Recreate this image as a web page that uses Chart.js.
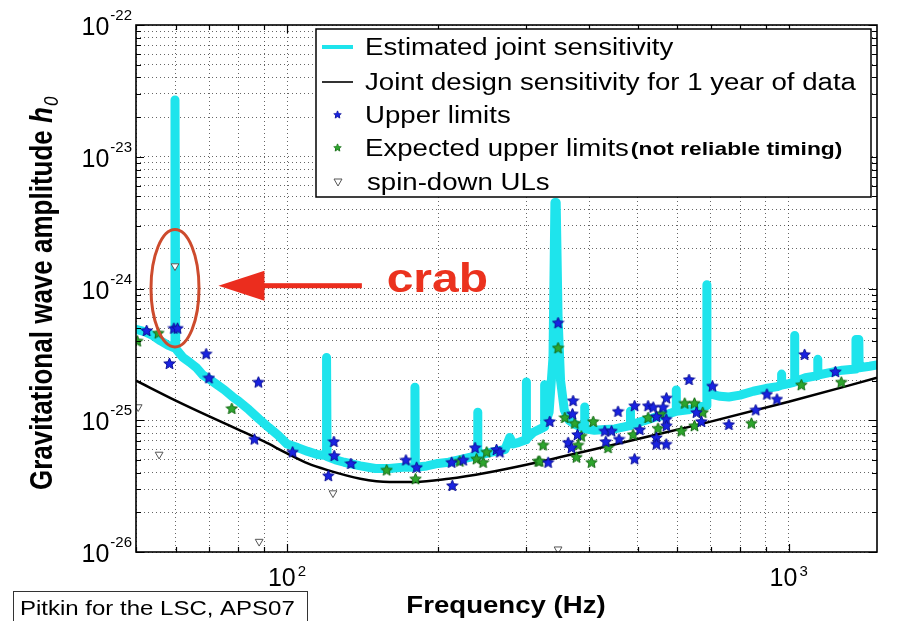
<!DOCTYPE html>
<html>
<head>
<meta charset="utf-8">
<script src="https://cdn.jsdelivr.net/npm/chart.js@4.4.1/dist/chart.umd.min.js"></script>
<style>
    html, body { margin: 0; padding: 0; background: #fff; }
    canvas { display: block; }
</style>
</head>
<body>
<canvas id="gw-chart" width="897" height="621"></canvas>
<script>
// 軸範囲
const X_MIN = 50, X_MAX = 1500;
const Y_MIN = 1e-26, Y_MAX = 1e-22;

// 目盛りラベル (10^n)
const xLabelExps = [2, 3];
const yLabelExps = [-26, -25, -24, -23, -22];

// Estimated joint sensitivity (cyan)
const sensFreq = [50, 52, 54, 56, 58, 59.6, 59.8, 60.0, 62, 64, 66, 68, 70, 72, 75, 78, 80, 84, 88, 92, 96,
    100, 105, 110, 115, 119.6, 119.9, 120.2, 125, 130, 140, 150, 160, 170, 179.6, 179.9, 180.2, 190, 200,
    210, 220, 230, 239.6, 239.9, 240.2, 250, 260, 272, 278, 282, 290, 299.6, 299.9, 300.2, 310, 320,
    325.8, 326.1, 326.4, 333, 339, 342, 344, 347, 351, 357, 365, 375, 385, 391.7, 392, 392.3, 410, 430,
    450, 470, 483.3, 483.6, 483.9, 510, 540, 570, 596.6, 596.9, 597.2, 630, 660, 686.6, 686.9, 687.2,
    700, 730, 760, 800, 850, 900, 950, 967.7, 968, 968.3, 1000, 1027.7, 1028, 1028.3, 1080, 1142.7,
    1143, 1143.3, 1200, 1280, 1360, 1362, 1380, 1382, 1450, 1500];
const sensH = [4.9e-25, 4.7e-25, 4.4e-25, 4.0e-25, 3.7e-25, 3.55e-25, 2.7e-23, 3.5e-25, 3.0e-25, 2.75e-25,
    2.5e-25, 2.2e-25, 2.05e-25, 1.9e-25, 1.7e-25, 1.5e-25, 1.4e-25, 1.2e-25, 1.02e-25, 8.8e-26, 7.7e-26,
    6.6e-26, 6.2e-26, 5.8e-26, 5.5e-26, 5.4e-26, 3.0e-25, 5.3e-26, 5.0e-26, 4.8e-26, 4.5e-26, 4.3e-26,
    4.3e-26, 4.4e-26, 4.4e-26, 1.78e-25, 4.4e-26, 4.5e-26, 4.7e-26, 4.8e-26, 5.0e-26, 5.2e-26, 5.4e-26,
    1.15e-25, 5.4e-26, 5.6e-26, 5.8e-26, 6.0e-26, 7.4e-26, 6.6e-26, 6.8e-26, 7.1e-26, 1.95e-25, 7.2e-26,
    8.1e-26, 8.6e-26, 8.9e-26, 1.86e-25, 9.2e-26, 1.15e-25, 3.0e-25, 4.5e-24, 4.5e-24, 6.0e-25, 2.0e-25,
    1.2e-25, 1.0e-25, 9.3e-26, 8.9e-26, 8.7e-26, 1.26e-25, 8.6e-26, 8.4e-26, 8.5e-26, 8.6e-26, 8.9e-26,
    9.1e-26, 1.17e-25, 9.2e-26, 9.8e-26, 1.05e-25, 1.1e-25, 1.17e-25, 1.7e-25, 1.17e-25, 1.2e-25,
    1.26e-25, 1.29e-25, 1.07e-24, 1.58e-25, 1.58e-25, 1.52e-25, 1.5e-25, 1.55e-25, 1.66e-25, 1.74e-25,
    1.8e-25, 1.85e-25, 2.24e-25, 1.85e-25, 1.9e-25, 1.95e-25, 4.4e-25, 1.96e-25, 2.1e-25, 2.18e-25,
    2.9e-25, 2.2e-25, 2.29e-25, 2.4e-25, 2.45e-25, 4.1e-25, 4.1e-25, 2.5e-25, 2.57e-25, 2.63e-25];

// Joint design sensitivity (black)
const designFreq = [50, 60, 70, 80, 90, 100, 110, 120, 140, 160, 180, 210, 250, 300, 400, 500, 665, 1000, 1500];
const designH = [2.0e-25, 1.41e-25, 1.07e-25, 8.5e-26, 6.9e-26, 5.6e-26, 4.7e-26, 4.2e-26, 3.6e-26, 3.4e-26,
    3.4e-26, 3.6e-26, 4.0e-26, 4.6e-26, 5.9e-26, 7.2e-26, 9.3e-26, 1.38e-25, 2.1e-25];

// Upper limits (blue)
const ulFreq = [52.5, 59.5, 60.5, 58.3, 69.0, 69.9, 87.7, 86.1, 102.6, 120.9, 124.0, 124.2, 134.1, 172.6,
    181.3, 212.9, 213.5, 224.5, 237, 261.6, 265.6, 347, 334, 371.8, 370.7, 379.3, 363.4, 369, 331.6, 430,
    443.5, 432, 457, 459, 493, 505, 493, 524.5, 537, 562, 570.6, 545, 570, 570.6, 545, 570, 545, 633, 655,
    704.7, 670, 760, 859.6, 905, 947.7, 1076, 1239];
const ulH = [4.8e-25, 5.0e-25, 5.0e-25, 2.7e-25, 3.2e-25, 2.1e-25, 1.95e-25, 7.2e-26, 5.75e-26, 3.8e-26,
    6.9e-26, 5.4e-26, 4.7e-26, 5.0e-26, 4.4e-26, 4.8e-26, 3.2e-26, 5.0e-26, 6.2e-26, 6.0e-26, 5.75e-26,
    5.5e-25, 9.8e-26, 1.41e-25, 1.12e-25, 7.8e-26, 6.8e-26, 6.2e-26, 4.8e-26, 8.3e-26, 8.3e-26, 6.9e-26,
    1.17e-25, 7.2e-26, 1.29e-25, 8.5e-26, 5.1e-26, 1.29e-25, 1.26e-25, 1.26e-25, 1.48e-25, 1.07e-25,
    1.02e-25, 9.1e-26, 7.4e-26, 6.6e-26, 6.6e-26, 2.04e-25, 1.15e-25, 1.82e-25, 9.8e-26, 9.3e-26, 1.2e-25,
    1.58e-25, 1.45e-25, 3.16e-25, 2.34e-25];

// Expected upper limits (green)
const expFreq = [50.3, 55.4, 77.6, 158, 180.4, 221, 238.7, 246, 250, 316.8, 347, 324, 319, 358, 374.7, 386,
    380.4, 377.6, 404.6, 407.7, 436.5, 489.6, 524.5, 549, 556, 611, 620.6, 649, 649, 674, 842.7, 1060, 1273];
const expH = [4.0e-25, 4.6e-25, 1.23e-25, 4.2e-26, 3.6e-26, 4.9e-26, 5.1e-26, 4.8e-26, 5.75e-26, 4.9e-26,
    3.55e-25, 6.5e-26, 4.9e-26, 1.05e-25, 9.5e-26, 7.6e-26, 6.5e-26, 5.25e-26, 4.8e-26, 9.8e-26, 6.2e-26,
    7.8e-26, 1.05e-25, 8.7e-26, 1.12e-25, 8.3e-26, 1.35e-25, 1.35e-25, 9.1e-26, 1.15e-25, 9.5e-26,
    1.86e-25, 1.95e-25];

// spin-down ULs
const sdFreq = [50.5, 55.6, 59.8, 88, 123.5, 347];
const sdH = [1.26e-25, 5.5e-26, 1.48e-24, 1.2e-26, 2.8e-26, 1.05e-26];

// crab 注記
const crabMark = { freq: 59.8, hTop: 2.8e-24, hBottom: 3.6e-25 };
const crabArrow = { tipFreq: 73, tailFreq: 141, h: 1.05e-24 };
const crabLabel = { freq: 158, h: 9.4e-25 };

const CYAN = "rgb(30,228,236)";
const SX = 1.2; // 横伸ばし

function toPoints(xs, ys) {
    return xs.map((x, i) => ({ x: x, y: ys[i] }));
}

// 1..9 x 10^n のグリッド位置
function gridValues(min, max) {
    const out = [];
    for (let d = Math.floor(Math.log10(min)); d <= Math.ceil(Math.log10(max)); d++) {
        for (let m = 1; m <= 9; m++) {
            const v = m * Math.pow(10, d);
            if (v >= min * 0.999 && v <= max * 1.001) out.push(v);
        }
    }
    return out;
}

function makeStar(fill, stroke, size) {
    const c = document.createElement("canvas");
    c.width = size;
    c.height = size;
    const g = c.getContext("2d");
    const cx = size / 2, cy = size / 2 + 0.5;
    const R = size / 2 - 0.5, r = R * 0.45;
    g.beginPath();
    for (let i = 0; i < 10; i++) {
        const a = -Math.PI / 2 + i * Math.PI / 5;
        const rad = i % 2 ? r : R;
        g.lineTo(cx + rad * Math.cos(a), cy + rad * Math.sin(a));
    }
    g.closePath();
    g.fillStyle = fill;
    g.fill();
    g.strokeStyle = stroke;
    g.lineWidth = 1;
    g.stroke();
    return c;
}

const blueStar = makeStar("rgb(25,35,225)", "rgb(10,15,150)", 13);
const greenStar = makeStar("rgb(45,165,45)", "rgb(20,105,20)", 13);

function drawText(ctx, str, x, y, font, color, align, sx) {
    ctx.save();
    ctx.font = font;
    ctx.fillStyle = color;
    ctx.textAlign = "left";
    ctx.textBaseline = "alphabetic";
    const w = ctx.measureText(str).width * sx;
    let x0 = x;
    if (align === "center") x0 = x - w / 2;
    if (align === "right") x0 = x - w;
    ctx.translate(x0, y);
    ctx.scale(sx, 1);
    ctx.fillText(str, 0, 0);
    ctx.restore();
    return w;
}

function textWidth(ctx, str, font, sx) {
    ctx.save();
    ctx.font = font;
    const w = ctx.measureText(str).width * sx;
    ctx.restore();
    return w;
}

// 枠・内向き目盛り・目盛りラベル・軸タイトル
const framePlugin = {
    id: "frame",
    afterDatasetsDraw(chart) {
        const { ctx, chartArea, scales } = chart;
        const { left, right, top, bottom } = chartArea;
        ctx.save();
        ctx.strokeStyle = "#000";
        ctx.lineWidth = 1.2;
        ctx.beginPath();
        gridValues(X_MIN, X_MAX).forEach(v => {
            const px = Math.round(scales.x.getPixelForValue(v)) + 0.5;
            const len = Number.isInteger(Math.log10(v)) ? 8 : 5;
            ctx.moveTo(px, bottom); ctx.lineTo(px, bottom - len);
            ctx.moveTo(px, top); ctx.lineTo(px, top + len);
        });
        gridValues(Y_MIN, Y_MAX).forEach(v => {
            const py = Math.round(scales.y.getPixelForValue(v)) + 0.5;
            const e = Math.log10(v);
            const len = Math.abs(e - Math.round(e)) < 1e-6 ? 8 : 5;
            ctx.moveTo(left, py); ctx.lineTo(left + len, py);
            ctx.moveTo(right, py); ctx.lineTo(right - len, py);
        });
        ctx.stroke();
        ctx.lineWidth = 1.6;
        ctx.strokeRect(left, top, right - left, bottom - top);

        // 目盛りラベル
        const baseFont = "25px 'Liberation Sans', Arial, sans-serif";
        const expFont = "15px 'Liberation Sans', Arial, sans-serif";
        yLabelExps.forEach(e => {
            const py = scales.y.getPixelForValue(Math.pow(10, e));
            const expStr = "-" + Math.abs(e);
            const we = textWidth(ctx, expStr, expFont, 1);
            drawText(ctx, expStr, left - 4, py - 5, expFont, "#000", "right", 1);
            drawText(ctx, "10", left - 5 - we, py + 10, baseFont, "#000", "right", 1);
        });
        xLabelExps.forEach(e => {
            const px = scales.x.getPixelForValue(Math.pow(10, e));
            const wb = textWidth(ctx, "10", baseFont, 1);
            const we = textWidth(ctx, String(e), expFont, 1);
            const x0 = px - (wb + we + 2) / 2;
            drawText(ctx, "10", x0, 586, baseFont, "#000", "left", 1);
            drawText(ctx, String(e), x0 + wb + 2, 576, expFont, "#000", "left", 1);
        });

        // x 軸タイトル
        drawText(ctx, "Frequency (Hz)", 506, 613, "bold 23px 'Liberation Sans', Arial, sans-serif", "#000", "center", SX);

        // y 軸タイトル
        ctx.save();
        ctx.translate(52, 490);
        ctx.rotate(-Math.PI / 2);
        ctx.scale(1, SX);
        ctx.fillStyle = "#000";
        ctx.textBaseline = "alphabetic";
        ctx.font = "bold 26px 'Liberation Sans', Arial, sans-serif";
        const t1 = "Gravitational wave amplitude ";
        ctx.fillText(t1, 0, 0);
        let w = ctx.measureText(t1).width;
        ctx.font = "italic bold 26px 'Liberation Sans', Arial, sans-serif";
        ctx.fillText("h", w, 0);
        w += ctx.measureText("h").width;
        ctx.font = "italic 17px 'Liberation Sans', Arial, sans-serif";
        ctx.fillText("0", w + 1, 5);
        ctx.restore();

        // クレジット
        ctx.strokeStyle = "#333";
        ctx.lineWidth = 1;
        ctx.strokeRect(13.5, 591.5, 294, 40);
        drawText(ctx, "Pitkin for the LSC, APS07", 20, 615, "20px 'Liberation Sans', Arial, sans-serif", "#000", "left", SX);
        ctx.restore();
    }
};

// crab 注記
const crabPlugin = {
    id: "crab",
    afterDatasetsDraw(chart) {
        const { ctx, scales } = chart;
        const cx = scales.x.getPixelForValue(crabMark.freq);
        const yTop = scales.y.getPixelForValue(crabMark.hTop);
        const yBot = scales.y.getPixelForValue(crabMark.hBottom);
        ctx.save();
        ctx.strokeStyle = "rgb(205,75,45)";
        ctx.lineWidth = 3;
        ctx.beginPath();
        ctx.ellipse(cx, (yTop + yBot) / 2, 24, (yBot - yTop) / 2, 0, 0, Math.PI * 2);
        ctx.stroke();

        const tipX = scales.x.getPixelForValue(crabArrow.tipFreq);
        const tailX = scales.x.getPixelForValue(crabArrow.tailFreq);
        const ay = scales.y.getPixelForValue(crabArrow.h);
        ctx.fillStyle = "rgb(235,45,30)";
        ctx.fillRect(tipX + 44, ay - 2.5, tailX - tipX - 44, 5);
        ctx.beginPath();
        ctx.moveTo(tipX, ay);
        ctx.lineTo(tipX + 46, ay - 15);
        ctx.lineTo(tipX + 46, ay + 15);
        ctx.closePath();
        ctx.fill();

        drawText(ctx, "crab", scales.x.getPixelForValue(crabLabel.freq), scales.y.getPixelForValue(crabLabel.h),
            "bold 40px 'Liberation Sans', Arial, sans-serif", "rgb(235,50,30)", "left", SX);
        ctx.restore();
    }
};

// 図中の凡例
const legendPlugin = {
    id: "insideLegend",
    afterDatasetsDraw(chart) {
        const ctx = chart.ctx;
        const ds = chart.data.datasets;
        const font = "23px 'Liberation Sans', Arial, sans-serif";
        ctx.save();
        ctx.fillStyle = "#fff";
        ctx.fillRect(316, 29, 555, 168);
        ctx.strokeStyle = "#000";
        ctx.lineWidth = 1.5;
        ctx.strokeRect(316, 29, 555, 168);

        const rows = [47, 82, 115, 148, 182];
        // cyan
        ctx.strokeStyle = CYAN;
        ctx.lineWidth = 4;
        ctx.beginPath(); ctx.moveTo(322, rows[0]); ctx.lineTo(353, rows[0]); ctx.stroke();
        // black
        ctx.strokeStyle = "#000";
        ctx.lineWidth = 1.6;
        ctx.beginPath(); ctx.moveTo(322, rows[1]); ctx.lineTo(353, rows[1]); ctx.stroke();
        ctx.drawImage(blueStar, 333, rows[2] - 5, 9, 9);
        ctx.drawImage(greenStar, 333, rows[3] - 5, 9, 9);
        // triangle
        ctx.fillStyle = "#fff";
        ctx.strokeStyle = "#555";
        ctx.lineWidth = 1;
        ctx.beginPath();
        ctx.moveTo(334, rows[4] - 3); ctx.lineTo(342, rows[4] - 3); ctx.lineTo(338, rows[4] + 4);
        ctx.closePath(); ctx.fill(); ctx.stroke();

        drawText(ctx, ds[0].label, 365, rows[0] + 8, font, "#000", "left", SX);
        drawText(ctx, ds[1].label, 365, rows[1] + 8, font, "#000", "left", SX);
        drawText(ctx, ds[4].label, 365, rows[2] + 8, font, "#000", "left", SX);
        const w = drawText(ctx, ds[3].label, 365, rows[3] + 8, font, "#000", "left", SX);
        drawText(ctx, "(not reliable timing)", 365 + w + 2, rows[3] + 7,
            "bold 19px 'Liberation Sans', Arial, sans-serif", "#000", "left", SX);
        drawText(ctx, ds[2].label, 367, rows[4] + 8, font, "#000", "left", SX);
        ctx.restore();
    }
};

const gridStyle = {
    color: "rgba(0,0,0,0.6)",
    lineWidth: 1,
    drawTicks: false,
    borderDash: [1, 3]
};

new Chart(document.getElementById("gw-chart"), {
    type: "scatter",
    data: {
        datasets: [
            {
                label: "Estimated joint sensitivity",
                data: toPoints(sensFreq, sensH),
                showLine: true,
                borderColor: CYAN,
                borderWidth: 9,
                borderJoinStyle: "round",
                borderCapStyle: "round",
                pointRadius: 0,
                order: 5
            },
            {
                label: "Joint design sensitivity for 1 year of data",
                data: toPoints(designFreq, designH),
                showLine: true,
                borderColor: "#000",
                borderWidth: 2.5,
                cubicInterpolationMode: "monotone",
                pointRadius: 0,
                order: 4
            },
            {
                label: "spin-down ULs",
                data: toPoints(sdFreq, sdH),
                pointStyle: "triangle",
                pointRotation: 180,
                pointRadius: 4.5,
                pointBackgroundColor: "#fff",
                pointBorderColor: "#555",
                pointBorderWidth: 1,
                order: 3
            },
            {
                label: "Expected upper limits",
                data: toPoints(expFreq, expH),
                pointStyle: greenStar,
                pointRadius: 6,
                order: 2
            },
            {
                label: "Upper limits",
                data: toPoints(ulFreq, ulH),
                pointStyle: blueStar,
                pointRadius: 6,
                order: 1
            }
        ]
    },
    options: {
        responsive: false,
        animation: false,
        events: [],
        layout: {
            padding: { top: 25, right: 20, left: 0, bottom: 0 }
        },
        scales: {
            x: {
                type: "logarithmic",
                min: X_MIN,
                max: X_MAX,
                position: "bottom",
                afterBuildTicks(scale) {
                    scale.ticks = gridValues(X_MIN, X_MAX).map(v => ({ value: v }));
                },
                afterFit(scale) {
                    scale.height = 69;
                },
                ticks: { display: false, autoSkip: false },
                grid: gridStyle,
                border: { display: false, dash: [1, 3] }
            },
            y: {
                type: "logarithmic",
                min: Y_MIN,
                max: Y_MAX,
                afterBuildTicks(scale) {
                    scale.ticks = gridValues(Y_MIN, Y_MAX).map(v => ({ value: v }));
                },
                afterFit(scale) {
                    scale.width = 136;
                },
                ticks: { display: false, autoSkip: false },
                grid: gridStyle,
                border: { display: false, dash: [1, 3] }
            }
        },
        plugins: {
            legend: { display: false },
            tooltip: { enabled: false }
        }
    },
    plugins: [
        framePlugin,
        crabPlugin,
        legendPlugin
    ]
});
</script>
</body>
</html>
